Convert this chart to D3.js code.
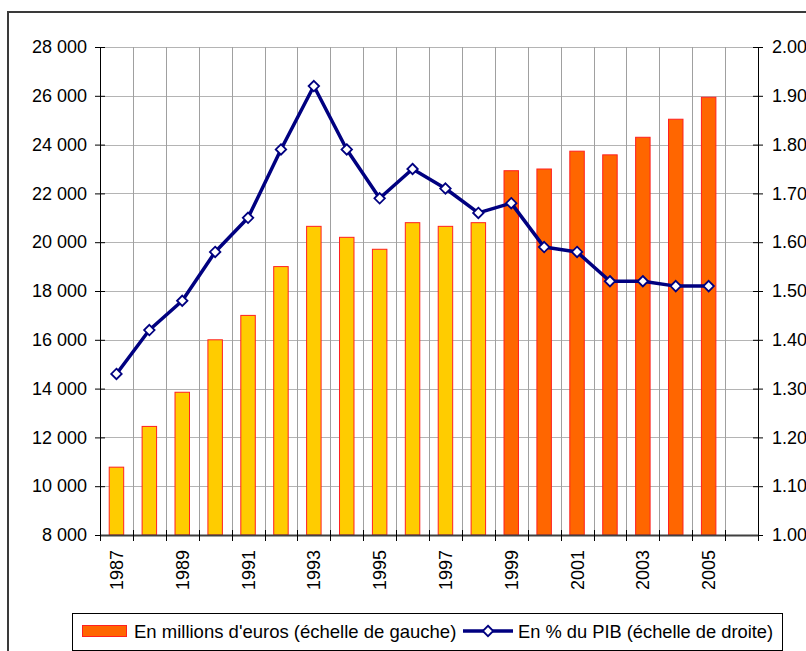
<!DOCTYPE html>
<html>
<head>
<meta charset="utf-8">
<script src="https://cdn.jsdelivr.net/npm/d3@7"></script>
<style>
  html, body { margin: 0; padding: 0; background: #fff; }
  svg { display: block; font-family: "Liberation Sans", Arial, sans-serif; }
</style>
</head>
<body>
<svg id="chart" width="806" height="651"></svg>
<script>
// Years shown on the category axis (one empty slot kept after 2005)
const years = [1987, 1988, 1989, 1990, 1991, 1992, 1993, 1994, 1995, 1996,
               1997, 1998, 1999, 2000, 2001, 2002, 2003, 2004, 2005];
const axisSlots = [...years, 2006];
const tickYears = [1987, 1989, 1991, 1993, 1995, 1997, 1999, 2001, 2003, 2005];

// Spending in millions of euros (left scale)
const millions = [10780, 12450, 13850, 16000, 17000, 19000, 20650, 20200, 19710, 20800,
                  20650, 20800, 22930, 23000, 23730, 23580, 24300, 25040, 25940];
// Share of GDP in percent (right scale)
const pctGDP = [1.33, 1.42, 1.48, 1.58, 1.65, 1.79, 1.92, 1.79, 1.69, 1.75,
                1.71, 1.66, 1.68, 1.59, 1.58, 1.52, 1.52, 1.51, 1.51];
// Years drawn in the lighter colour
const lastLightYear = 1998;

const leftTicks = [8000, 10000, 12000, 14000, 16000, 18000, 20000, 22000, 24000, 26000, 28000];
const rightTicks = [1.0, 1.1, 1.2, 1.3, 1.4, 1.5, 1.6, 1.7, 1.8, 1.9, 2.0];

const legendLabels = ["En millions d'euros (échelle de gauche)", "En % du PIB (échelle de droite)"];

const svg = d3.select("#chart");
const plot = { left: 100, right: 758, top: 47, bottom: 535 };

const x = d3.scaleBand().domain(axisSlots).range([plot.left, plot.right]).paddingInner(0).paddingOuter(0);
const xEdge = d3.scaleLinear().domain([0, axisSlots.length]).range([plot.left, plot.right]);
const yL = d3.scaleLinear().domain([8000, 28000]).range([plot.bottom, plot.top]);
const yR = d3.scaleLinear().domain([1.0, 2.0]).range([plot.bottom, plot.top]);

const locale = d3.formatLocale({ decimal: ".", thousands: " ", grouping: [3], currency: ["", ""] });
const fmtL = locale.format(",d");
const fmtR = d3.format(".2f");

// Outer frame
svg.append("rect")
  .attr("x", 8).attr("y", 12).attr("width", 900).attr("height", 700)
  .attr("fill", "none").attr("stroke", "#3a3a3a").attr("stroke-width", 2);

// Gridlines
const grid = svg.append("g");
grid.selectAll("line.h").data(leftTicks.slice(1)).join("line")
  .attr("x1", plot.left).attr("x2", plot.right)
  .attr("y1", d => Math.round(yL(d)) + 0.5).attr("y2", d => Math.round(yL(d)) + 0.5)
  .attr("stroke", "#b4b4b4").attr("stroke-width", 1.2);
grid.selectAll("line.v").data(d3.range(1, axisSlots.length)).join("line")
  .attr("x1", d => Math.round(xEdge(d)) + 0.5).attr("x2", d => Math.round(xEdge(d)) + 0.5)
  .attr("y1", plot.top).attr("y2", plot.bottom)
  .attr("stroke", "#a0a0a0").attr("stroke-width", 1);

// Bars
const barW = x.bandwidth() * 0.44;
svg.append("g").selectAll("rect").data(years).join("rect")
  .attr("x", (d) => x(d) + (x.bandwidth() - barW) / 2)
  .attr("width", barW)
  .attr("y", (d, i) => yL(millions[i]))
  .attr("height", (d, i) => yL(8000) - yL(millions[i]))
  .attr("fill", d => d <= lastLightYear ? "#FFCC00" : "#FF6600")
  .attr("stroke", "#FF2020").attr("stroke-width", 1);

// Left axis
const axL = svg.append("g").attr("transform", `translate(${plot.left},0)`)
  .call(d3.axisLeft(yL).tickValues(leftTicks).tickFormat(fmtL).tickSizeOuter(0));
axL.select(".domain").attr("stroke", "#000");
axL.selectAll(".tick line").attr("x1", -5).attr("x2", 5).attr("stroke", "#000");
axL.selectAll(".tick text").attr("x", -13).attr("font-size", 18)
  .attr("font-family", "Liberation Sans, Arial, sans-serif").attr("fill", "#000");

// Right axis
const axR = svg.append("g").attr("transform", `translate(${plot.right},0)`)
  .call(d3.axisRight(yR).tickValues(rightTicks).tickFormat(fmtR).tickSizeOuter(0));
axR.select(".domain").attr("stroke", "#000");
axR.selectAll(".tick line").attr("x1", -5).attr("x2", 5).attr("stroke", "#000");
axR.selectAll(".tick text").attr("x", 14).attr("font-size", 18)
  .attr("font-family", "Liberation Sans, Arial, sans-serif").attr("fill", "#000");

// Bottom axis
const axB = svg.append("g");
axB.append("line")
  .attr("x1", plot.left).attr("x2", plot.right)
  .attr("y1", plot.bottom + 0.5).attr("y2", plot.bottom + 0.5)
  .attr("stroke", "#404040").attr("stroke-width", 2);
axB.selectAll("line.tick").data(d3.range(0, axisSlots.length + 1)).join("line")
  .attr("x1", d => Math.round(xEdge(d)) + 0.5).attr("x2", d => Math.round(xEdge(d)) + 0.5)
  .attr("y1", plot.bottom - 5).attr("y2", plot.bottom + 6)
  .attr("stroke", "#000");
axB.selectAll("text").data(tickYears).join("text")
  .attr("transform", d => `translate(${x(d) + x.bandwidth() / 2 + 6.5},${plot.bottom + 15}) rotate(-90)`)
  .attr("text-anchor", "end").attr("font-size", 18).attr("fill", "#000")
  .text(d => d);

// GDP share line with diamond markers
const pts = years.map((d, i) => [x(d) + x.bandwidth() / 2, yR(pctGDP[i])]);
svg.append("path")
  .attr("d", d3.line()(pts))
  .attr("fill", "none").attr("stroke", "#000080").attr("stroke-width", 3.5)
  .attr("stroke-linejoin", "round");
const diamond = d3.symbol().type(d3.symbolDiamond2).size(70);
svg.append("g").selectAll("path").data(pts).join("path")
  .attr("transform", d => `translate(${d[0]},${d[1]})`)
  .attr("d", diamond)
  .attr("fill", "#fff").attr("stroke", "#000080").attr("stroke-width", 1.8);

// Legend
const lg = svg.append("g");
lg.append("rect").attr("x", 72.5).attr("y", 613.5).attr("width", 710).attr("height", 37)
  .attr("fill", "#fff").attr("stroke", "#000").attr("stroke-width", 1);
lg.append("rect").attr("x", 82.5).attr("y", 625.5).attr("width", 44).attr("height", 11)
  .attr("fill", "#FF6600").attr("stroke", "#FF2020");
lg.append("text").attr("x", 134).attr("y", 638).attr("font-size", 18.5).attr("fill", "#000")
  .text(legendLabels[0]);
lg.append("line").attr("x1", 463).attr("x2", 513).attr("y1", 631).attr("y2", 631)
  .attr("stroke", "#000080").attr("stroke-width", 3.5);
lg.append("path").attr("transform", "translate(488,631)").attr("d", diamond)
  .attr("fill", "#fff").attr("stroke", "#000080").attr("stroke-width", 1.8);
lg.append("text").attr("x", 518).attr("y", 638).attr("font-size", 18.3).attr("fill", "#000")
  .text(legendLabels[1]);
</script>
</body>
</html>
